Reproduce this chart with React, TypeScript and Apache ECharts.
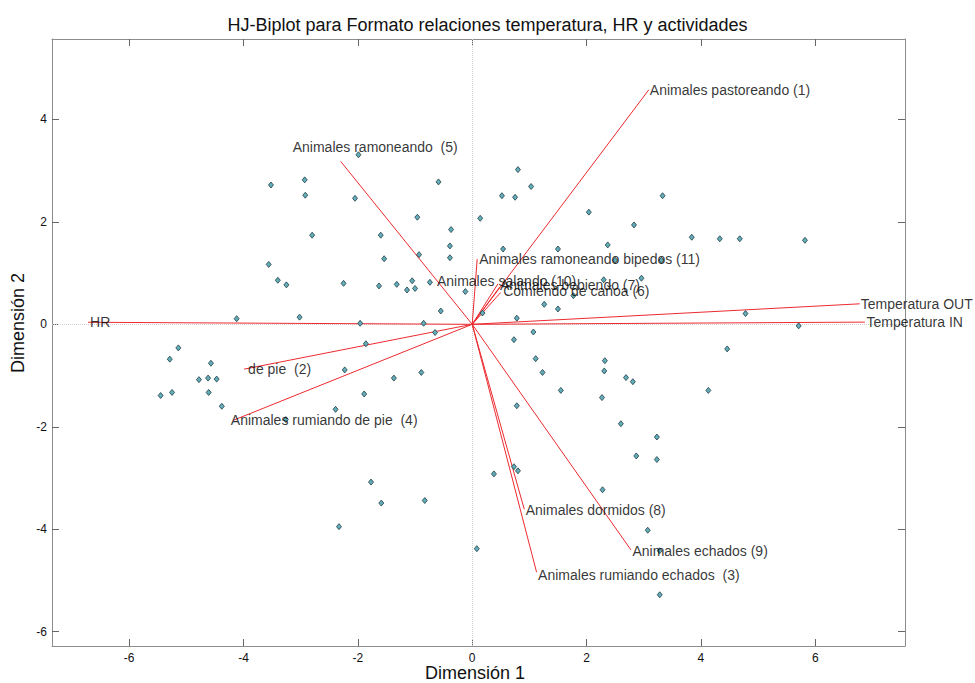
import React, { useEffect, useRef } from "react";
import * as echarts from "echarts";

const chartTitle = "HJ-Biplot para Formato relaciones temperatura, HR y actividades";
const xAxisTitle = "Dimensión 1";
const yAxisTitle = "Dimensión 2";
const xTicks = [-6, -4, -2, 0, 2, 4, 6];
const yTicks = [-6, -4, -2, 0, 2, 4];
const X_MIN = -7.35;
const X_MAX = 7.57;
const Y_MIN = -6.28;
const Y_MAX = 5.57;

// individual (row) markers
const pointsX = [
  -1.99, -3.52, -2.93, -2.92, -2.05, -0.59, -0.96, 0.14, -0.37, -2.8, -1.6, -0.39, -1.54, -0.93, -0.39,
  -3.56, -3.4, -3.25, -2.25, -1.63, -1.32, -1.05, -1.14, -1.0, -0.74, -0.12, -0.55, 0.18, -4.12, -3.02,
  -1.96, -0.85, 0.8, 1.03, 0.52, 0.75, 3.33, 2.04, 2.83, 3.84, 4.33, 4.68, 5.82, 0.54, 1.5, 2.37, 2.5,
  3.31, 2.3, 2.96, 1.77, 1.26, 1.5, 0.78, 4.78, 5.71, -0.65, -1.86, -5.14, -5.29, -4.57, -2.23, -0.89,
  -1.37, -4.78, -4.62, -4.47, -5.45, -5.25, -4.61, -1.89, -4.38, -2.39, -3.26, 0.38, -1.77, -1.59, -0.83,
  -2.33, 0.08, 1.07, 0.73, 4.46, 1.11, 2.32, 1.23, 2.31, 2.69, 2.81, 1.55, 4.13, 2.27, 0.78, 2.6, 3.23,
  2.87, 3.23, 0.73, 0.8, 2.28, 3.07, 3.28, 3.28,
];
const pointsY = [
  3.31, 2.72, 2.82, 2.52, 2.46, 2.78, 2.09, 2.07, 1.85, 1.74, 1.74, 1.53, 1.28, 1.36, 1.3,
  1.17, 0.86, 0.77, 0.8, 0.75, 0.78, 0.85, 0.67, 0.7, 0.82, 0.64, 0.26, 0.22, 0.11, 0.14,
  0.02, 0.02, 3.02, 2.69, 2.51, 2.48, 2.51, 2.19, 1.94, 1.7, 1.67, 1.67, 1.64, 1.47, 1.47, 1.55, 1.25,
  1.25, 0.87, 0.9, 0.56, 0.39, 0.3, 0.12, 0.21, -0.03, -0.16, -0.38, -0.46, -0.68, -0.76, -0.89, -0.94,
  -1.05, -1.08, -1.05, -1.07, -1.39, -1.33, -1.33, -1.36, -1.6, -1.66, -1.86, -2.92, -3.08, -3.49, -3.44,
  -3.95, -4.38, -0.15, -0.3, -0.48, -0.67, -0.71, -0.94, -0.91, -1.04, -1.12, -1.29, -1.29, -1.43, -1.59, -1.94, -2.2,
  -2.57, -2.64, -2.78, -2.86, -3.23, -4.02, -4.42, -5.28,
];

// variable (column) vectors
const vectorNames = [
  "Animales pastoreando (1)",
  "de pie  (2)",
  "Animales rumiando echados  (3)",
  "Animales rumiando de pie  (4)",
  "Animales ramoneando  (5)",
  "Comiendo de caňoa (6)",
  "Animales bebiendo (7)",
  "Animales dormidos (8)",
  "Animales echados (9)",
  "Animales salando (10)",
  "Animales ramoneando bipedos (11)",
  "HR",
  "Temperatura OUT",
  "Temperatura IN",
];
const vectorX = [3.09, -3.99, 1.126, -4.17, -2.3, 0.497, 0.484, 0.91, 2.776, 0.45, 0.087, -6.72, 6.778, 6.87];
const vectorY = [4.58, -0.875, -4.84, -1.87, 3.18, 0.621, 0.732, -3.61, -4.404, 0.791, 1.273, 0.04, 0.4, 0.043];

// label placement (pixels, styling only)
const labelOffsets: number[][] = [
  [1, 0], [4, 0], [1.5, 3], [-3, 0], [-48, -14], [2.6, -2], [0, -2],
  [1.5, 1], [1.5, 1.5], [-61, -3], [2, 0], [2, 0], [1, 0], [1.5, 0],
];

const FONT = "'Liberation Sans', Arial, sans-serif";

export default function App() {
  const ref = useRef<HTMLDivElement>(null);
  useEffect(() => {
    if (!ref.current) return;
    const chart = echarts.init(ref.current, undefined, { renderer: "svg" });
    const frameColor = "#8c8c8c";
    const tickColor = "#666";
    const mkX = (pos: "bottom" | "top", labels: boolean) => ({
      type: "value",
      min: X_MIN,
      max: X_MAX,
      position: pos,
      axisLine: { show: true, onZero: false, lineStyle: { color: frameColor, width: 1 } },
      axisTick: { show: true, inside: true, length: 7, customValues: xTicks, lineStyle: { color: tickColor } },
      axisLabel: {
        show: labels,
        customValues: xTicks,
        fontSize: 12,
        color: "#111",
        margin: 6,
        fontFamily: FONT,
      },
      splitLine: { show: false },
    });
    const mkY = (pos: "left" | "right", labels: boolean) => ({
      type: "value",
      min: Y_MIN,
      max: Y_MAX,
      position: pos,
      axisLine: { show: true, onZero: false, lineStyle: { color: frameColor, width: 1 } },
      axisTick: { show: true, inside: true, length: 7, customValues: yTicks, lineStyle: { color: tickColor } },
      axisLabel: {
        show: labels,
        customValues: yTicks,
        fontSize: 12,
        color: "#111",
        margin: 5,
        fontFamily: FONT,
      },
      splitLine: { show: false },
    });

    const vectorSeries = vectorNames.map((n, i) => ({
      type: "line",
      name: n,
      xAxisIndex: 0,
      yAxisIndex: 0,
      data: [
        [0, 0],
        [vectorX[i], vectorY[i]],
      ],
      symbol: "none",
      lineStyle: { color: "#ec2a2f", width: 1 },
      z: 3,
      silent: true,
    }));

    chart.setOption({
      animation: false,
      title: {
        text: chartTitle,
        left: "center",
        top: 11,
        textStyle: { fontSize: 18, fontWeight: "normal", color: "#111", fontFamily: FONT },
      },
      grid: { left: 52, right: 70, top: 39, bottom: 37, show: false },
      xAxis: [mkX("bottom", true), mkX("top", false)],
      yAxis: [mkY("left", true), mkY("right", false)],
      graphic: [
        {
          type: "text",
          x: 475,
          y: 673,
          style: {
            text: xAxisTitle,
            fontSize: 18,
            fill: "#111",
            fontFamily: FONT,
            align: "center",
            verticalAlign: "middle",
          },
        },
        {
          type: "text",
          x: 18,
          y: 323,
          rotation: Math.PI / 2,
          style: {
            text: yAxisTitle,
            fontSize: 18,
            fill: "#111",
            fontFamily: FONT,
            align: "center",
            verticalAlign: "middle",
          },
        },
      ],
      series: [
        {
          type: "scatter",
          xAxisIndex: 0,
          yAxisIndex: 0,
          data: pointsX.map((x, i) => [x, pointsY[i]]),
          symbol: "diamond",
          symbolSize: [5, 6],
          itemStyle: { color: "#62adb9", borderColor: "#1f3d44", borderWidth: 0.8, opacity: 1 },
          z: 4,
          silent: true,
          markLine: {
            silent: true,
            symbol: ["none", "none"],
            label: { show: false },
            lineStyle: { type: "dotted", color: "#cfcfcf", width: 1 },
            data: [{ xAxis: 0 }, { yAxis: 0 }],
            z: 1,
          },
        },
        ...vectorSeries,
        {
          type: "scatter",
          xAxisIndex: 0,
          yAxisIndex: 0,
          symbolSize: 0,
          silent: true,
          z: 6,
          data: vectorNames.map((n, i) => ({
            name: n,
            value: [vectorX[i], vectorY[i]],
            label: { offset: labelOffsets[i] },
          })),
          label: {
            show: true,
            position: "right",
            distance: 0,
            formatter: (p: any) => p.name,
            fontSize: 14,
            color: "#000",
            fontFamily: FONT,
          },
        },
      ],
    });
    return () => chart.dispose();
  }, []);
  return (
    <div
      ref={ref}
      style={{ position: "absolute", left: 0, top: 0, width: 975, height: 683, background: "#fff" }}
    />
  );
}
